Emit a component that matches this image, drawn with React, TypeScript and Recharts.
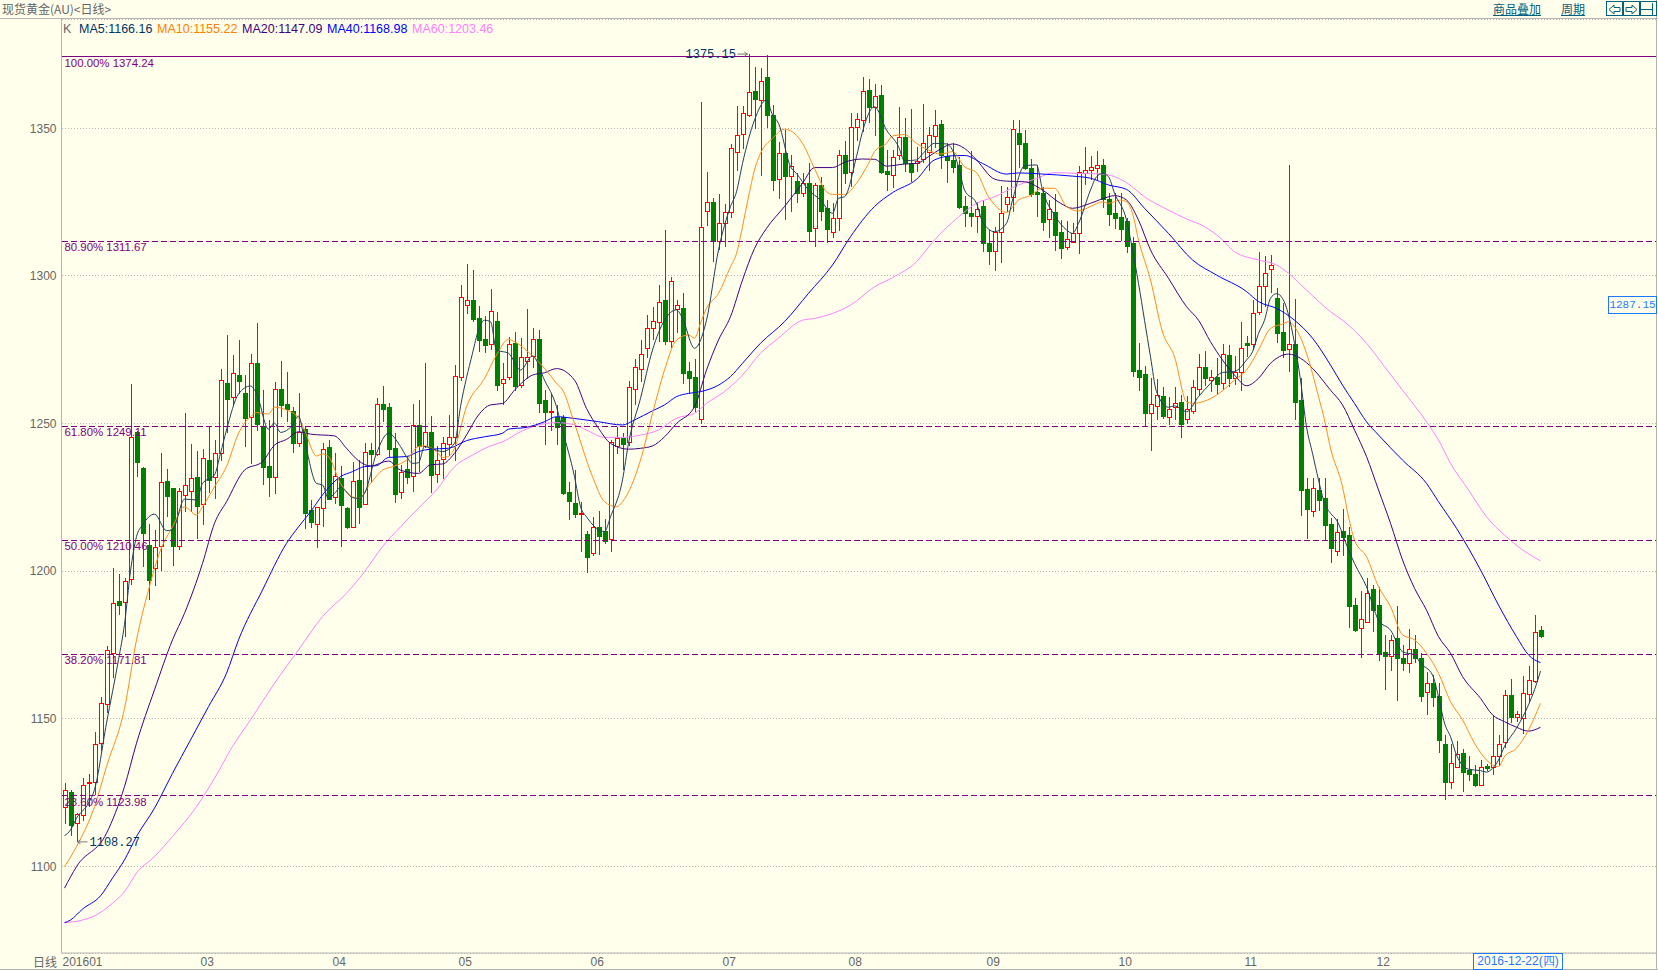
import {
  Bar,
  CartesianGrid,
  ComposedChart,
  Line,
  ReferenceDot,
  ReferenceLine,
  XAxis,
  YAxis,
} from "recharts";

// daily candles
const opens = [
  1120, 1125.2, 1114.6, 1117.5, 1128.1, 1128.7, 1141.7, 1154.9, 1172.4, 1189.8,
  1189.6, 1197.2, 1247.2, 1234.9, 1208.7, 1201.2, 1208.6, 1230.4, 1228, 1208.6,
  1225.9, 1227.2, 1231.8, 1222.6, 1237.6, 1231.8, 1240.1, 1263.6, 1259.1, 1266.3,
  1260.2, 1252.1, 1270.4, 1249.3, 1235.6, 1231.8, 1261.6, 1256.5, 1254.1, 1243.5,
  1248.1, 1220.7, 1215.8, 1221.3, 1242, 1225.2, 1231.6, 1221.3, 1215, 1230.7,
  1222.8, 1241, 1239.6, 1256.5, 1255.5, 1241.6, 1226.7, 1234.6, 1232.1, 1249.4,
  1242.4, 1247, 1232.8, 1237.9, 1243, 1245.5, 1265.9, 1290.2, 1291.8, 1285.6,
  1278.6, 1276.8, 1284.7, 1263.8, 1265.6, 1277.4, 1263.2, 1271.3, 1272.9, 1278.5,
  1258, 1253.9, 1252.3, 1252.3, 1226.8, 1223.1, 1219.4, 1212.6, 1206, 1214.8,
  1213.5, 1210.8, 1242.5, 1245, 1243.8, 1261.6, 1268.6, 1275.5, 1282.2, 1284.5,
  1291.8, 1278.1, 1288.9, 1289, 1267.8, 1265.6, 1251.4, 1321.9, 1325, 1311.9,
  1317.8, 1321.8, 1342.1, 1348.2, 1354.5, 1362.6, 1359.6, 1367.3, 1354.5, 1332.9,
  1341.8, 1333.9, 1332.1, 1328.2, 1331.5, 1316.1, 1330.8, 1322.9, 1315, 1319.5,
  1340.8, 1335.3, 1350.3, 1352.9, 1363, 1357.3, 1361.2, 1335.4, 1334.3, 1340.8,
  1346.9, 1338.4, 1338.1, 1339.5, 1342.1, 1347.4, 1351.3, 1340.6, 1339.3, 1337.6,
  1323.7, 1321.2, 1320.4, 1323.7, 1311.3, 1308.5, 1314.8, 1324.2, 1326.6, 1348.3,
  1344.9, 1336.4, 1328.3, 1328, 1319.2, 1321.6, 1314.8, 1309.7, 1311.6, 1314.4,
  1334.7, 1335.9, 1336.7, 1337.6, 1326.1, 1321.2, 1319.8, 1318.6, 1311, 1268.1,
  1266.8, 1253.7, 1256, 1259.3, 1252.1, 1255.5, 1257.2, 1251.6, 1254.3, 1261.7,
  1269, 1264.9, 1265.6, 1263.8, 1273.2, 1265.5, 1267.6, 1277.2, 1276.8, 1287.9,
  1296.7, 1302.2, 1292.6, 1280.9, 1275.1, 1276.9, 1258, 1227.8, 1220.5, 1227.5,
  1224.8, 1216, 1206.9, 1213.6, 1212.2, 1188.4, 1180.6, 1182.9, 1193.8, 1188.4,
  1172.5, 1171.4, 1177.2, 1170.5, 1169, 1173.5, 1170.6, 1159.2, 1162, 1157.7,
  1141.5, 1128.4, 1133.8, 1138.3, 1132.7, 1131.2, 1127.7, 1133.9, 1133.6, 1137.5,
  1142, 1158.1, 1150.5, 1150.2, 1158.3, 1162.9, 1180,
];
const closes = [
  1125.7, 1114, 1117.8, 1127.7, 1128.4, 1141.4, 1155.2, 1173.2, 1189.1, 1188.4,
  1196.5, 1245.3, 1237.1, 1212.8, 1197, 1208, 1230.1, 1225.6, 1208.5, 1227,
  1229, 1231.4, 1222.2, 1238.4, 1230.9, 1239.9, 1264.6, 1258.4, 1267, 1264.5,
  1252, 1270.4, 1249.8, 1235.4, 1232, 1261.6, 1256.3, 1255, 1243.3, 1247.2,
  1219.6, 1216.7, 1221.6, 1241.2, 1224.3, 1232.1, 1222.4, 1215, 1230.6, 1221.8,
  1240.4, 1239.7, 1256.5, 1255, 1241.4, 1226.2, 1233.6, 1232, 1249.4, 1242.4,
  1247, 1232.7, 1237.5, 1243.3, 1245.5, 1266, 1292.7, 1291.7, 1285.4, 1278.3,
  1276.6, 1288, 1263, 1265, 1276.8, 1262.8, 1272.4, 1272.6, 1278.5, 1256.8,
  1254, 1254.1, 1248.9, 1226.6, 1223.7, 1219.3, 1219.6, 1204.9, 1214.8, 1212,
  1210.3, 1243.6, 1245, 1243.1, 1262.2, 1269, 1273.5, 1282.2, 1284.6, 1291.3,
  1278.1, 1298.2, 1290, 1267.2, 1265.5, 1255.7, 1316.4, 1324.9, 1311.9, 1317.8,
  1321.5, 1343.2, 1347.9, 1355.1, 1362.2, 1359.9, 1366, 1354.5, 1332.5, 1341.5,
  1333.8, 1337.2, 1328.2, 1331.6, 1315.3, 1330.7, 1322.1, 1316, 1319.5, 1340.8,
  1335, 1350.5, 1353, 1362.5, 1357.3, 1361, 1335.3, 1334.5, 1340.4, 1346.9,
  1338.4, 1335.3, 1338.8, 1344.9, 1347.9, 1351, 1340.8, 1339.1, 1337, 1323.3,
  1321.2, 1320.4, 1322.5, 1311, 1308.5, 1314.8, 1321.2, 1326.8, 1349.6, 1344.7,
  1336.4, 1327.7, 1327.6, 1318.1, 1322.5, 1313.9, 1309.3, 1312.4, 1314.4, 1335.3,
  1335.9, 1337, 1337.5, 1326.1, 1321, 1319.6, 1315.9, 1310.1, 1267.9, 1265.9,
  1253.7, 1256.5, 1259.5, 1252.5, 1254.8, 1257.1, 1249.8, 1254.8, 1262.2, 1269,
  1265.5, 1265.6, 1263.4, 1273.4, 1265.5, 1267.6, 1275.5, 1276.6, 1287.3, 1296.7,
  1301.1, 1303.6, 1280.8, 1274.9, 1276.8, 1257.4, 1227.5, 1221.1, 1228, 1224.1,
  1215.7, 1207.8, 1213.4, 1211.4, 1188.2, 1180, 1183.7, 1192.7, 1186.8, 1172.2,
  1171.4, 1176.5, 1170.5, 1169, 1173.5, 1170.5, 1157.8, 1162, 1157.5, 1142.8,
  1128.4, 1134.9, 1137.9, 1131.8, 1131.3, 1127.7, 1133.6, 1133.4, 1137.5, 1141.4,
  1158, 1150.7, 1151.5, 1158.6, 1163, 1179.3, 1178.1,
];
const highs = [
  1128.1, 1125.8, 1118.2, 1129.8, 1131.2, 1145.4, 1157.5, 1174.7, 1200.9, 1199,
  1197.6, 1263.4, 1247.5, 1235.2, 1216, 1213.9, 1239.9, 1234.6, 1228.2, 1228,
  1253.4, 1243, 1240.7, 1241.3, 1248.9, 1244.4, 1268.4, 1280, 1273.2, 1278.3,
  1266.4, 1273.5, 1284.2, 1261.3, 1251.2, 1264, 1271.2, 1267.6, 1255.7, 1260.2,
  1249, 1224.1, 1221.8, 1243.3, 1244.4, 1239.9, 1235.7, 1221.6, 1236.8, 1237.6,
  1243.3, 1243.3, 1258.5, 1262.7, 1256.8, 1246.7, 1236, 1238.5, 1256.6, 1258,
  1270.4, 1252.5, 1242.4, 1245.3, 1252.9, 1269.8, 1296.9, 1304, 1302, 1289.8,
  1286.4, 1295.5, 1287.8, 1270.4, 1279.4, 1281.1, 1278.9, 1288.7, 1282.2, 1281.7,
  1261.3, 1260, 1256.3, 1252.9, 1230.1, 1234.2, 1223.5, 1213.6, 1218.2, 1220.3,
  1217.5, 1244.4, 1248.9, 1246.7, 1264.4, 1271.7, 1278.3, 1286.6, 1289.6, 1296.9,
  1315.6, 1299.5, 1291.8, 1294.1, 1270.7, 1271.7, 1358.8, 1335.3, 1326.3, 1327.6,
  1324.2, 1344.7, 1357.6, 1357.6, 1375.15, 1370.9, 1370.3, 1375, 1357.9, 1345.2,
  1349.4, 1341, 1334.9, 1334.7, 1338.4, 1331.6, 1333.6, 1325.7, 1324.6, 1342.6,
  1345.7, 1355.1, 1355.1, 1367.3, 1366.6, 1364.9, 1364.7, 1342.6, 1342.6, 1357.3,
  1353.4, 1356.4, 1343.8, 1358.2, 1350.5, 1356.2, 1352.8, 1344.9, 1344.9, 1340.4,
  1327.1, 1342.3, 1325.1, 1325.7, 1315.6, 1316.7, 1330.5, 1330.2, 1352.8, 1352.8,
  1349.4, 1339.5, 1337.6, 1330.2, 1325.7, 1327.9, 1318.9, 1318.7, 1317.8, 1337.3,
  1343.8, 1340.6, 1342.3, 1339.6, 1328, 1328, 1328, 1319.5, 1313.1, 1277.4,
  1269.5, 1265.3, 1265, 1262.2, 1258.9, 1262.2, 1259.7, 1259.3, 1264.7, 1273.5,
  1274.6, 1268.1, 1272.1, 1277, 1276.6, 1272.9, 1284.3, 1279.6, 1291.8, 1308,
  1306.7, 1307.1, 1295.8, 1290.9, 1337.6, 1292.2, 1265.3, 1231.4, 1231.4, 1231.4,
  1231.4, 1217.9, 1217.6, 1220.9, 1214.8, 1190.8, 1193.4, 1197.6, 1195.3, 1194.7,
  1178.4, 1178.4, 1188.2, 1175, 1180.3, 1178.4, 1172.2, 1165.7, 1164.8, 1162,
  1144.5, 1141.5, 1142.5, 1139.7, 1137.2, 1134.4, 1136, 1134.6, 1150.9, 1144.5,
  1159.8, 1163.4, 1152.6, 1164.5, 1167.7, 1185.1, 1181.4,
];
const lows = [
  1114.4, 1110.4, 1108.27, 1115.2, 1120.2, 1124.2, 1139.1, 1152, 1163.7, 1185.1,
  1177.8, 1195.3, 1232, 1201.5, 1190.2, 1195, 1200.1, 1218.4, 1201.7, 1207,
  1220.1, 1220.1, 1210.8, 1215.6, 1226.3, 1224.4, 1237.4, 1246.7, 1256.3, 1260,
  1242.2, 1236.3, 1247.6, 1229, 1225.2, 1226.2, 1252.3, 1250.6, 1239.9, 1241.9,
  1214.3, 1214.5, 1207.9, 1215.1, 1224.1, 1222.7, 1208.3, 1214.2, 1214.5, 1216,
  1222.6, 1229.7, 1239, 1250.4, 1238.8, 1223.2, 1224.5, 1229.5, 1226.9, 1233.7,
  1241.6, 1226.6, 1229.7, 1231.1, 1239, 1237.4, 1264.4, 1287.2, 1284.5, 1274.3,
  1273.8, 1274.9, 1261.1, 1256.3, 1264.7, 1261.1, 1261.9, 1265, 1268.7, 1253.7,
  1242.7, 1247.6, 1242.7, 1225.8, 1217.3, 1218, 1206.6, 1199.5, 1205.2, 1205.5,
  1209.2, 1206.6, 1239.7, 1234.2, 1242.4, 1256.3, 1264, 1272.1, 1278.3, 1277.7,
  1276.6, 1275.7, 1280.5, 1263.4, 1260, 1253.8, 1249.8, 1316.9, 1304.8, 1308.8,
  1309.9, 1319.7, 1335.6, 1342.9, 1353.9, 1349.6, 1333.8, 1350, 1328.8, 1326,
  1318.9, 1321.8, 1324.6, 1326.8, 1311.6, 1309.9, 1318.7, 1311.3, 1312.7, 1315.3,
  1331.1, 1330.2, 1345.8, 1348.9, 1351.7, 1347.4, 1334.5, 1328.9, 1329.7, 1339.3,
  1335.3, 1331.9, 1335.3, 1338.1, 1335.6, 1343.2, 1336.2, 1331.6, 1334.7, 1322.7,
  1316.7, 1316.7, 1314.6, 1308.2, 1303.7, 1301.8, 1304.5, 1321.8, 1321.5, 1336.4,
  1335.9, 1326.8, 1319.8, 1315.3, 1312.7, 1308.5, 1305.7, 1308.8, 1311, 1307.4,
  1330.8, 1332.5, 1332.5, 1322.9, 1316.9, 1315.8, 1311.9, 1307.9, 1265.9, 1261.1,
  1248.9, 1240.8, 1251.2, 1251.6, 1249.4, 1251.2, 1245.2, 1249.8, 1253.2, 1259.6,
  1262.7, 1260.8, 1259.6, 1261.3, 1262.5, 1263, 1261.1, 1272.6, 1274.9, 1286.8,
  1289.6, 1294.1, 1277.4, 1272.1, 1267.6, 1251.2, 1218.7, 1210.8, 1218.4, 1220.5,
  1210.3, 1202.6, 1205.1, 1205.1, 1180.6, 1179.5, 1170.5, 1182.3, 1179.5, 1169.7,
  1159.8, 1166, 1156.1, 1166, 1165.4, 1168.8, 1155.5, 1151.1, 1153.8, 1138.5,
  1122.3, 1126.2, 1133.2, 1125.3, 1128.9, 1126.7, 1127.2, 1132.4, 1131, 1134,
  1140, 1148.5, 1149, 1144.9, 1155.5, 1162.2, 1177.4,
];

// moving averages, read at the candle index where the line could be read
const ma5: [number, number][] = [
  [0, 1110.4], [1, 1112.3], [2, 1116.3], [4, 1121.4], [5, 1126], [7, 1148.5], [9, 1170], [10, 1182], [11, 1200],
  [12, 1211.7], [13, 1215.6], [15, 1219.3], [17, 1213.7], [18, 1214], [20, 1224.4], [22, 1224.1], [23, 1229.7],
  [25, 1232.6], [26, 1239.9], [27, 1247.8], [29, 1260], [31, 1262.7], [32, 1260.2], [34, 1248.1], [35, 1250.1],
  [36, 1247], [38, 1249.5], [39, 1252.5], [40, 1244.4], [42, 1229.7], [43, 1229.2], [44, 1224.6], [45, 1226.3],
  [46, 1228.4], [48, 1224.9], [49, 1224.6], [50, 1226.3], [52, 1239.9], [54, 1246.7], [56, 1242.2], [57, 1238.8],
  [58, 1236.5], [59, 1236.7], [60, 1242.2], [61, 1241.6], [63, 1240.5], [65, 1243.3], [66, 1255.7], [68, 1273.8],
  [69, 1281.7], [70, 1285], [71, 1284.5], [72, 1274.9], [74, 1273.8], [76, 1268.1], [78, 1272.9], [80, 1264.7],
  [82, 1255.7], [83, 1247.8], [85, 1232], [86, 1221.8], [87, 1218.4], [90, 1213.4], [91, 1218.4], [93, 1230.9],
  [94, 1243.3], [96, 1258.5], [98, 1274.9], [100, 1285], [102, 1288.5], [103, 1285.6], [105, 1275.5], [107, 1285],
  [109, 1308.8], [111, 1323.5], [112, 1328.5], [113, 1338.1], [115, 1352.8], [117, 1359.6], [118, 1354.5],
  [119, 1351.7], [121, 1337], [122, 1334.7], [124, 1329.1], [126, 1325.7], [128, 1321.2], [129, 1326.3],
  [130, 1326.8], [132, 1340.4], [133, 1348.9], [135, 1357.3], [137, 1349.4], [139, 1343.8], [140, 1339],
  [142, 1339.3], [143, 1341.3], [145, 1344.9], [147, 1344.7], [148, 1342.6], [149, 1337], [150, 1329.1],
  [152, 1324.6], [153, 1318.4], [155, 1315], [157, 1317.8], [158, 1325.7], [160, 1337.3], [162, 1337.6],
  [163, 1329.1], [165, 1320.6], [167, 1315.6], [168, 1314.4], [169, 1317.8], [171, 1329.1], [172, 1333.6],
  [173, 1334.7], [174, 1333.6], [175, 1328], [177, 1318.9], [178, 1308.8], [179, 1297.5], [180, 1285],
  [181, 1272.6], [182, 1260.8], [184, 1255.5], [185, 1256], [187, 1254], [189, 1259.1], [191, 1263.6],
  [193, 1267.3], [195, 1267.6], [197, 1271.5], [198, 1274.3], [199, 1280.5], [200, 1285], [201, 1292.4],
  [202, 1294], [203, 1292.4], [204, 1286.8], [205, 1277.2], [206, 1264.7], [207, 1248.9], [208, 1239.9],
  [209, 1230.9], [210, 1223], [211, 1219.6], [212, 1217.3], [214, 1207.2], [215, 1202.6], [217, 1194.7],
  [219, 1183.4], [221, 1180], [223, 1172.7], [225, 1171.6], [226, 1168.8], [228, 1164.8], [229, 1157.5],
  [230, 1148.5], [231, 1143.9], [232, 1137.7], [234, 1132.9], [236, 1132.4], [237, 1131.9], [238, 1133.2],
  [239, 1136], [240, 1140.6], [242, 1146.8], [244, 1154.7], [245, 1159.8], [246, 1166.16],
];
const ma10: [number, number][] = [
  [0, 1099.9], [2, 1106.7], [5, 1120.2], [7, 1133.8], [10, 1153.5], [12, 1176.7], [14, 1193.6], [16, 1207.1],
  [18, 1215], [20, 1221.8], [22, 1219], [23, 1221.8], [25, 1228.6], [27, 1235.4], [29, 1246.7], [31, 1252.3],
  [32, 1253.7], [34, 1253.2], [35, 1255.5], [37, 1254.6], [39, 1251.8], [40, 1247.8], [42, 1239], [43, 1239.7],
  [44, 1238.8], [46, 1229.7], [48, 1225.2], [49, 1224.6], [51, 1229.7], [53, 1234.2], [55, 1235.6], [57, 1237.6],
  [59, 1242.2], [60, 1242.4], [62, 1240.5], [63, 1238.5], [64, 1238.8], [65, 1241.6], [67, 1255.7], [70, 1265.3],
  [72, 1273.2], [74, 1278.5], [75, 1277.7], [78, 1272.9], [80, 1268.7], [82, 1263.6], [83, 1261.4], [85, 1250],
  [88, 1232], [90, 1223.5], [92, 1221.8], [93, 1223.5], [96, 1237.6], [98, 1253.4], [100, 1268.1], [102, 1278.3],
  [104, 1280], [105, 1278.9], [106, 1284], [107, 1289], [109, 1294.1], [111, 1303.1], [112, 1307.6], [113, 1316.7],
  [114, 1326.8], [115, 1335.9], [116, 1341.5], [118, 1346.6], [120, 1349.7], [121, 1349.2], [123, 1344.9],
  [125, 1336.4], [127, 1328.5], [128, 1327.6], [130, 1327.6], [132, 1331.4], [134, 1338.1], [135, 1342.1],
  [137, 1344.9], [138, 1347.4], [140, 1347.9], [142, 1344.9], [144, 1342.6], [146, 1341.3], [148, 1342.1],
  [150, 1337], [152, 1335], [154, 1326.8], [156, 1322.3], [157, 1321.5], [159, 1325.7], [161, 1327.2], [163, 1329.7],
  [165, 1329.7], [167, 1323.5], [169, 1322], [171, 1323.5], [173, 1325.1], [174, 1324.6], [176, 1325.7],
  [177, 1325.1], [178, 1321.2], [179, 1312.2], [181, 1298.6], [183, 1281], [185, 1272.6], [187, 1257.4],
  [188, 1256.8], [192, 1259.6], [195, 1264.7], [197, 1268.1], [199, 1274.9], [201, 1282.2], [203, 1283.7],
  [204, 1284.5], [205, 1282.8], [207, 1273.8], [209, 1259.1], [210, 1251.2], [211, 1241.6], [213, 1228.6],
  [214, 1218.4], [215, 1210.5], [217, 1204.9], [219, 1194.7], [221, 1188], [223, 1178.4], [225, 1176.7],
  [227, 1172.2], [229, 1165.4], [231, 1155.8], [233, 1149.6], [235, 1141.7], [237, 1136], [239, 1133.8],
  [240, 1137.2], [242, 1140], [244, 1146.2], [246, 1155.22],
];
const ma20: [number, number][] = [
  [0, 1092.6], [2, 1099.9], [7, 1111.2], [10, 1127], [12, 1141.7], [15, 1159.8], [18, 1176.7], [20, 1185.7],
  [23, 1202.6], [25, 1216.2], [27, 1223.5], [30, 1234.2], [33, 1237.1], [35, 1242.7], [37, 1244.6], [39, 1247.2],
  [41, 1246.4], [45, 1245.8], [47, 1241.6], [49, 1237.4], [51, 1235.6], [54, 1237.3], [56, 1234.2], [59, 1233.1],
  [61, 1236], [63, 1236.3], [65, 1239.9], [67, 1246.1], [69, 1252.9], [71, 1256.3], [73, 1256.8], [75, 1261.3],
  [78, 1266.4], [80, 1267.2], [82, 1268.6], [85, 1264.7], [87, 1255.1], [89, 1248.4], [91, 1243.3], [94, 1241.3],
  [96, 1241.6], [98, 1242.4], [100, 1245.5], [102, 1250], [105, 1255.7], [107, 1268.1], [109, 1278.3], [111, 1286.2],
  [113, 1298.6], [115, 1309.3], [117, 1316.1], [120, 1323.5], [123, 1331.4], [125, 1336.7], [128, 1336.7],
  [130, 1338.5], [133, 1339.6], [135, 1339.5], [137, 1337.2], [140, 1337.9], [142, 1338.1], [144, 1340.4],
  [146, 1343], [148, 1344.7], [150, 1343.2], [152, 1339.3], [155, 1332.8], [157, 1332.1], [160, 1331.9],
  [163, 1329.1], [166, 1324.6], [168, 1322.9], [171, 1324.6], [174, 1326.8], [175, 1327.2], [177, 1325.7],
  [179, 1318.9], [181, 1308.8], [184, 1299.2], [187, 1289.6], [189, 1285], [191, 1277.7], [193, 1271.5],
  [195, 1266.4], [197, 1262.8], [199, 1265.3], [201, 1270.4], [204, 1273.5], [206, 1272.1], [208, 1268.7],
  [211, 1261.3], [213, 1256.3], [215, 1247.8], [217, 1238.8], [219, 1227.5], [221, 1216.2], [223, 1203.8],
  [225, 1194.2], [227, 1186.8], [229, 1177.8], [231, 1172.2], [233, 1164.3], [236, 1156.9], [238, 1151.3],
  [240, 1149], [242, 1147.1], [244, 1145.8], [246, 1147.09],
];
const ma40: [number, number][] = [
  [0, 1080.9], [1, 1081.8], [3, 1085.5], [6, 1090], [8, 1096], [10, 1102.2], [12, 1110.1], [15, 1119.7], [18, 1131.5],
  [21, 1142.8], [24, 1154.1], [27, 1165.4], [29, 1176.7], [33, 1193.6], [37, 1209.4], [39, 1215], [41, 1220.1],
  [43, 1225.8], [46, 1232], [48, 1233.7], [50, 1235.4], [52, 1235.7], [54, 1238.5], [57, 1238.8], [59, 1240.5],
  [61, 1241.3], [64, 1241.6], [67, 1244.2], [70, 1245.5], [73, 1246.7], [74, 1248.1], [77, 1248.7], [80, 1250.6],
  [82, 1252.3], [85, 1251.7], [89, 1250.6], [93, 1249.5], [95, 1251.2], [98, 1254.3], [100, 1256.3], [102, 1259.1],
  [104, 1260.2], [106, 1260.8], [109, 1263], [111, 1265.9], [113, 1270.4], [116, 1277.2], [120, 1284.5],
  [124, 1294.1], [128, 1303.7], [131, 1313.3], [135, 1323.5], [138, 1328.2], [142, 1332.7], [145, 1339.3],
  [148, 1340.7], [150, 1340.8], [153, 1338.1], [157, 1334.5], [159, 1334.9], [163, 1334.5], [168, 1333.8],
  [171, 1333.1], [174, 1330.8], [177, 1329.3], [180, 1322.9], [184, 1314.4], [188, 1305.4], [192, 1300.3],
  [197, 1294.7], [199, 1291.3], [202, 1289], [205, 1285], [208, 1278.9], [211, 1269.8], [213, 1263], [215, 1256.8],
  [217, 1250.6], [219, 1246.1], [223, 1237.6], [227, 1229.7], [229, 1223.5], [232, 1214.5], [236, 1200.4],
  [239, 1188.5], [242, 1177.8], [244, 1171.6], [246, 1168.98],
];
const ma60: [number, number][] = [
  [0, 1080.9], [3, 1081.8], [5, 1083.2], [8, 1087.5], [10, 1091.4], [12, 1097.7], [15, 1103.3], [18, 1110.1],
  [22, 1120.2], [25, 1129.8], [28, 1140.6], [31, 1149.6], [35, 1162], [39, 1173.3], [43, 1184.6], [47, 1192.5],
  [50, 1199.8], [53, 1208.3], [56, 1215], [59, 1221.3], [62, 1227.5], [65, 1235.4], [68, 1239.3], [71, 1242.4],
  [73, 1243.8], [76, 1247.2], [79, 1249.5], [82, 1250.3], [85, 1249.5], [87, 1247.8], [90, 1245.3], [93, 1245.3],
  [96, 1246.1], [99, 1247.8], [102, 1251.8], [105, 1253.4], [107, 1256.8], [110, 1260.8], [113, 1266.4],
  [116, 1273.8], [119, 1278.9], [123, 1285], [125, 1285.6], [128, 1287.3], [131, 1290.1], [135, 1296.3],
  [138, 1299.4], [142, 1304.8], [145, 1312.2], [149, 1320], [152, 1324.6], [155, 1326.8], [159, 1330.8],
  [162, 1333], [165, 1335], [169, 1334.7], [173, 1334.5], [177, 1331.6], [180, 1326.8], [184, 1322.3],
  [187, 1319.3], [190, 1316.7], [193, 1312.2], [195, 1308.2], [199, 1305.4], [202, 1303.7], [204, 1300.9],
  [207, 1295.2], [211, 1287.9], [213, 1285], [217, 1277.2], [220, 1269.3], [223, 1261.3], [227, 1250.6],
  [229, 1244.4], [231, 1236.5], [234, 1227.5], [237, 1218.4], [240, 1212.2], [243, 1207.2], [246, 1203.46],
];

const priceTicks = [1100, 1150, 1200, 1250, 1300, 1350];
const monthIndex = [0, 23, 45, 66, 88, 110, 131, 154, 176, 197, 219];
const monthLabels = ["201601", "03", "04", "05", "06", "07", "08", "09", "10", "11", "12"];
const fibLevels = [1374.24, 1311.67, 1249.11, 1210.46, 1171.81, 1123.98];
const fibNames = ["100.00%", "80.90%", "61.80%", "50.00%", "38.20%", "23.60%"];
const legendNames = ["MA5:1166.16", "MA10:1155.22", "MA20:1147.09", "MA40:1168.98", "MA60:1203.46"];
const legendColors = ["#003366", "#ff8000", "#400080", "#0000ff", "#ff80ff"];
const legendLeft = [79, 157, 242, 327, 412];

const BG = "#ffffec";
const FRAME = "#b4b4b4";
const RED = "#ff0000";
const GREEN = "#008000";
const PURPLE = "#800080";
const SANS = "'Liberation Sans', sans-serif";
const CJK = "'Noto Sans CJK SC', sans-serif";
const MONO = "'Liberation Mono', monospace";
const TEAL = "#00607f";
const ACTIVE = "#1e78ff";

const rows: Record<string, any>[] = opens.map((o, i) => ({
  i,
  open: o,
  close: closes[i],
  range: [lows[i], highs[i]],
}));
const fill = (key: string, pts: [number, number][]) =>
  pts.forEach(([i, v]) => {
    rows[i][key] = v;
  });
fill("ma5", ma5);
fill("ma10", ma10);
fill("ma20", ma20);
fill("ma40", ma40);
fill("ma60", ma60);

function Candle(props: any) {
  const { x, y, width, height, payload } = props;
  const [low, high] = payload.range;
  const perUnit = height / (high - low || 1);
  const up = payload.close >= payload.open;
  const color = up ? RED : GREEN;
  const cx = Math.floor(x + width / 2) + 0.5;
  const top = Math.round(y + (high - Math.max(payload.open, payload.close)) * perUnit);
  const bottom = Math.round(y + (high - Math.min(payload.open, payload.close)) * perUnit);
  return (
    <g shapeRendering="crispEdges">
      <line x1={cx} x2={cx} y1={y} y2={y + height} stroke={color} />
      <rect
        x={cx - 2}
        y={top + 0.5}
        width={4}
        height={Math.max(bottom - top, 0)}
        fill={up ? BG : GREEN}
        stroke={color}
      />
    </g>
  );
}

function MonthTick({ x, y, payload }: any) {
  const n = monthIndex.indexOf(payload.value);
  return (
    <text x={x - 2} y={y + 5} fill="#666" fontSize={12} fontFamily={SANS}>
      {monthLabels[n]}
    </text>
  );
}

function fibLabel(level: number, name: string) {
  return ({ viewBox }: any) => (
    <text x={viewBox.x + 3} y={viewBox.y + 10} fill={PURPLE} fontSize={11.4} fontFamily={SANS}>
      {name} {level.toFixed(2)}
    </text>
  );
}

function HighMark({ cx, cy }: any) {
  return (
    <g>
      <path d={`M${cx - 11} ${cy}H${cx - 1}M${cx - 4} ${cy - 2}L${cx - 1} ${cy}L${cx - 4} ${cy + 2}`} stroke="#777" fill="none" />
      <text x={cx - 63} y={cy + 4} fill="#003366" fontSize={12} fontFamily={MONO}>
        1375.15
      </text>
    </g>
  );
}

function LowMark({ cx, cy }: any) {
  return (
    <g>
      <path d={`M${cx + 1} ${cy}H${cx + 11}M${cx + 4} ${cy - 2}L${cx + 1} ${cy}L${cx + 4} ${cy + 2}`} stroke="#777" fill="none" />
      <text x={cx + 13} y={cy + 4} fill="#003366" fontSize={12} fontFamily={MONO}>
        1108.27
      </text>
    </g>
  );
}

function Toolbar() {
  const box = { position: "absolute" as const, top: 1, width: 15, height: 13, border: `1px solid ${TEAL}` };
  return (
    <>
      <div style={{ position: "absolute", left: 1493, top: 1, fontSize: 12, lineHeight: "16px", color: TEAL, fontFamily: CJK, textDecoration: "underline" }}>
        商品叠加
      </div>
      <div style={{ position: "absolute", left: 1561, top: 1, fontSize: 12, lineHeight: "16px", color: TEAL, fontFamily: CJK, textDecoration: "underline" }}>
        周期
      </div>
      <div style={{ ...box, left: 1606 }}>
        <svg width={15} height={13}>
          <path d="M2 6.5L7 2V4.5H13V8.5H7V11Z" fill="none" stroke={TEAL} />
        </svg>
      </div>
      <div style={{ ...box, left: 1623 }}>
        <svg width={15} height={13}>
          <path d="M13 6.5L8 2V4.5H2V8.5H8V11Z" fill="none" stroke={TEAL} />
        </svg>
      </div>
      <div style={{ ...box, left: 1640 }}>
        <svg width={15} height={13}>
          <path d="M0 6.5H11M11.5 0V13" fill="none" stroke={TEAL} />
        </svg>
      </div>
    </>
  );
}

export default function App() {
  return (
    <div style={{ position: "absolute", left: 0, top: 0, width: 1658, height: 970, background: BG, overflow: "hidden" }}>
      <style>{`
        .recharts-cartesian-grid line, .recharts-reference-line line { shape-rendering: crispEdges; }
      `}</style>
      <ComposedChart
        width={1658}
        height={970}
        data={rows}
        margin={{ top: 19, right: 1, bottom: 0, left: 0 }}
        barCategoryGap={0}
      >
        <CartesianGrid horizontal vertical={false} stroke={FRAME} strokeDasharray="1 2" />
        <XAxis
          dataKey="i"
          type="category"
          ticks={monthIndex}
          interval={0}
          height={17}
          padding={{ left: 0, right: 113.5 }}
          tickLine={false}
          tick={<MonthTick />}
          axisLine={{ stroke: FRAME }}
        />
        <YAxis
          width={61.5}
          domain={[1070.63, 1387.03]}
          ticks={priceTicks}
          allowDataOverflow
          tickLine={false}
          tickSize={0}
          tickMargin={5}
          axisLine={{ stroke: FRAME }}
          tick={{ fill: "#666", fontSize: 12, fontFamily: SANS }}
        />
        <Bar dataKey="range" barSize={5} shape={<Candle />} isAnimationActive={false} />
        <Line type="monotone" dataKey="ma60" stroke="#ff80ff" strokeWidth={1} dot={false} connectNulls isAnimationActive={false} />
        <Line type="monotone" dataKey="ma40" stroke="#0000ff" strokeWidth={1} dot={false} connectNulls isAnimationActive={false} />
        <Line type="monotone" dataKey="ma20" stroke="#400080" strokeWidth={1} dot={false} connectNulls isAnimationActive={false} />
        <Line type="monotone" dataKey="ma10" stroke="#ff8c1a" strokeWidth={1} dot={false} connectNulls isAnimationActive={false} />
        <Line type="monotone" dataKey="ma5" stroke="#1f3f5f" strokeWidth={1} dot={false} connectNulls isAnimationActive={false} />
        {fibLevels.map((level, n) => (
          <ReferenceLine
            key={level}
            y={level}
            stroke={PURPLE}
            strokeDasharray={n === 0 ? undefined : "6 3"}
            label={fibLabel(level, fibNames[n])}
          />
        ))}
        <ReferenceDot x={114} y={1375.15} r={0} ifOverflow="visible" shape={<HighMark />} />
        <ReferenceDot x={2} y={1108.27} r={0} ifOverflow="visible" shape={<LowMark />} />
      </ComposedChart>

      {/* header and frame */}
      <div style={{ position: "absolute", left: 0, top: 18, width: 1658, height: 1, background: FRAME }} />
      <div style={{ position: "absolute", left: 0, top: 969, width: 1658, height: 1, background: FRAME }} />
      <div style={{ position: "absolute", left: 1656, top: 0, width: 1, height: 970, background: FRAME }} />
      <div style={{ position: "absolute", left: 2, top: 1, fontSize: 12, lineHeight: "16px", color: "#666", fontFamily: CJK, whiteSpace: "nowrap" }}>
        现货黄金(AU)&lt;日线&gt;
      </div>
      <Toolbar />

      {/* legend */}
      <div style={{ position: "absolute", left: 63, top: 22, fontSize: 12.5, lineHeight: "15px", color: "#666", fontFamily: SANS }}>K</div>
      {legendNames.map((name, n) => (
        <div
          key={name}
          style={{ position: "absolute", left: legendLeft[n], top: 22, fontSize: 12.5, lineHeight: "15px", color: legendColors[n], fontFamily: SANS, whiteSpace: "nowrap" }}
        >
          {name}
        </div>
      ))}

      <div style={{ position: "absolute", left: 33, top: 954, fontSize: 12, lineHeight: "15px", color: "#666", fontFamily: CJK }}>日线</div>
      <div
        style={{ position: "absolute", left: 1608, top: 296, width: 47, height: 16, border: `1px solid ${ACTIVE}`, fontSize: 11, lineHeight: "16px", color: ACTIVE, fontFamily: MONO, textAlign: "center", background: BG }}
      >
        1287.15
      </div>
      <div
        style={{ position: "absolute", left: 1473, top: 953, width: 88, height: 15, border: `1px solid ${ACTIVE}`, fontSize: 12, lineHeight: "15px", color: ACTIVE, fontFamily: SANS, textAlign: "center", background: BG, whiteSpace: "nowrap" }}
      >
        2016-12-22(四)
      </div>
    </div>
  );
}
